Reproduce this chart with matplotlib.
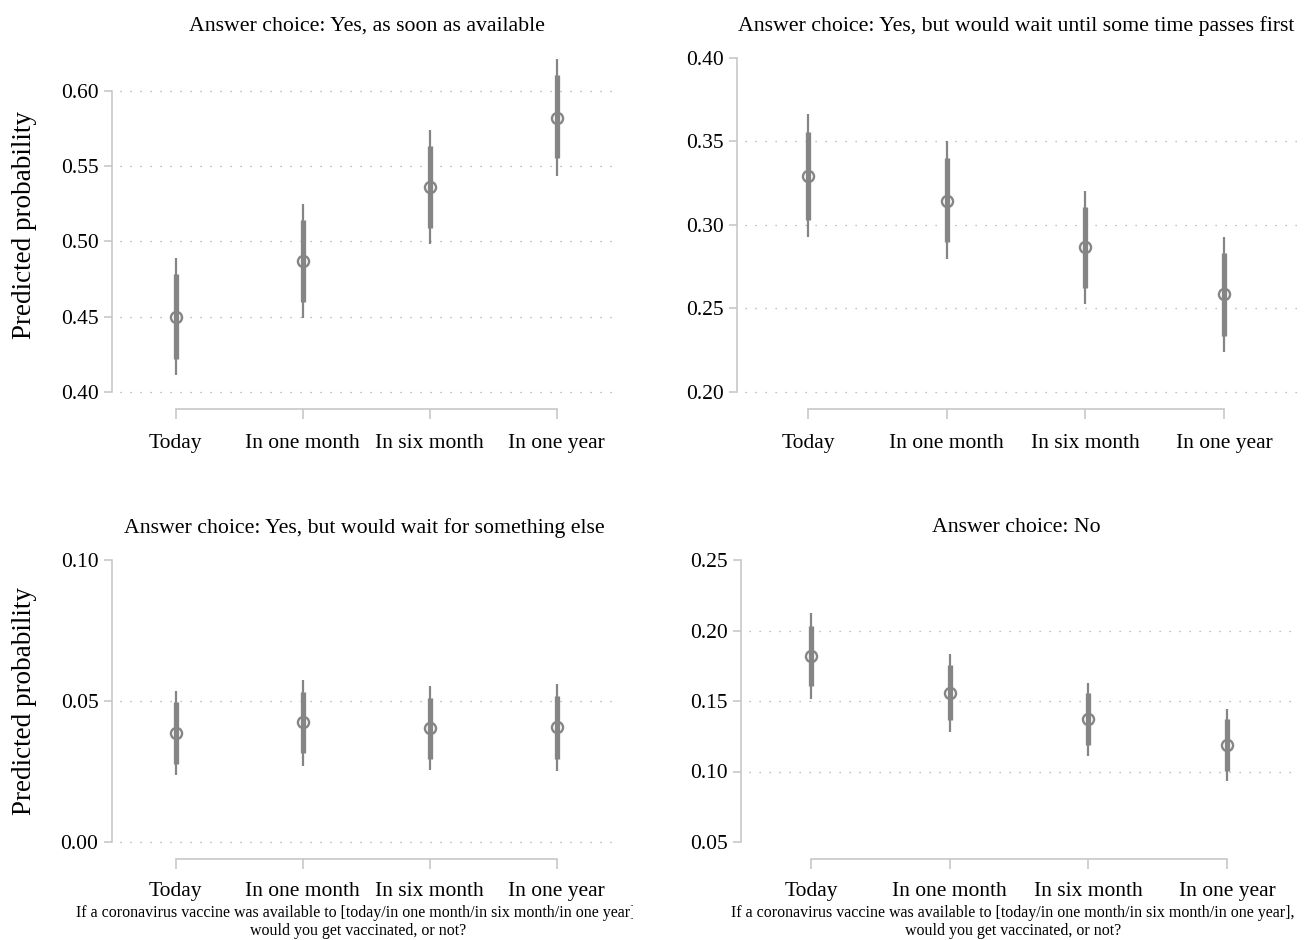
import matplotlib
matplotlib.use("Agg")
import matplotlib.pyplot as plt
from matplotlib.transforms import Bbox, TransformedBbox

plt.rcParams["font.family"] = ["Liberation Serif", "DejaVu Serif"]

categories = ["Today", "In one month", "In six month", "In one year"]

titles = [
    "Answer choice: Yes, as soon as available",
    "Answer choice: Yes, but would wait until some time passes first",
    "Answer choice: Yes, but would wait for something else",
    "Answer choice: No",
]

# point estimates
est_soon = [0.450, 0.487, 0.536, 0.582]
est_wait_time = [0.3296, 0.3146, 0.2866, 0.2584]
est_wait_else = [0.0387, 0.0425, 0.0405, 0.0408]
est_no = [0.1818, 0.1558, 0.1373, 0.1189]

# inner (thick) intervals
inner_lo_soon = [0.422, 0.460, 0.509, 0.555]
inner_hi_soon = [0.478, 0.514, 0.563, 0.610]
inner_lo_wait_time = [0.3032, 0.2896, 0.2620, 0.2338]
inner_hi_wait_time = [0.3556, 0.3400, 0.3106, 0.2830]
inner_lo_wait_else = [0.0278, 0.0316, 0.0296, 0.0295]
inner_hi_wait_else = [0.0495, 0.0533, 0.0509, 0.0517]
inner_lo_no = [0.1605, 0.1364, 0.1189, 0.1004]
inner_hi_no = [0.2031, 0.1752, 0.1558, 0.1369]

# outer (thin) intervals
outer_lo_soon = [0.411, 0.449, 0.4985, 0.543]
outer_hi_soon = [0.489, 0.525, 0.574, 0.621]
outer_lo_wait_time = [0.2928, 0.2794, 0.2524, 0.2240]
outer_hi_wait_time = [0.3664, 0.3500, 0.3204, 0.2928]
outer_lo_wait_else = [0.0236, 0.0271, 0.0254, 0.0252]
outer_hi_wait_else = [0.0536, 0.0576, 0.0553, 0.0562]
outer_lo_no = [0.1515, 0.1283, 0.1113, 0.0933]
outer_hi_no = [0.2121, 0.1833, 0.1631, 0.1440]

yticks_soon = [0.40, 0.45, 0.50, 0.55, 0.60]
yticks_wait_time = [0.20, 0.25, 0.30, 0.35, 0.40]
yticks_wait_else = [0.00, 0.05, 0.10]
yticks_no = [0.05, 0.10, 0.15, 0.20, 0.25]

grid_soon = [0.40, 0.45, 0.50, 0.55, 0.60]
grid_wait_time = [0.20, 0.25, 0.30, 0.35]
grid_wait_else = [0.00, 0.05]
grid_no = [0.10, 0.15, 0.20]

xtitle = ("If a coronavirus vaccine was available to [today/in one month/in six month/in one year],\n"
          "would you get vaccinated, or not?")

W, H = 1307, 940
MARK = "#858585"
AXC = "#c4c4c4"
GRIDC = "#a8a8a8"

fig = plt.figure(figsize=(W / 100, H / 100), dpi=100)


def px_axes(x0, x1, y0, y1):
    return fig.add_axes([x0 / W, 1 - y1 / H, (x1 - x0) / W, (y1 - y0) / H])


panels = [
    dict(box=(120, 620, 58, 392), xlim=(-0.44, 3.50), ylim=(0.40, 0.6216),
         est=est_soon, ilo=inner_lo_soon, ihi=inner_hi_soon,
         olo=outer_lo_soon, ohi=outer_hi_soon, yt=yticks_soon, grid=grid_soon,
         title_x=367, title_y=26, ylabel=True, xt=False, xpad=10.3),
    dict(box=(745, 1297, 58, 392), xlim=(-0.454, 3.526), ylim=(0.20, 0.40),
         est=est_wait_time, ilo=inner_lo_wait_time, ihi=inner_hi_wait_time,
         olo=outer_lo_wait_time, ohi=outer_hi_wait_time, yt=yticks_wait_time,
         grid=grid_wait_time, title_x=1016, title_y=26, ylabel=False, xt=False,
         xpad=10.3),
    dict(box=(120, 620, 560, 842), xlim=(-0.44, 3.50), ylim=(0.00, 0.10),
         est=est_wait_else, ilo=inner_lo_wait_else, ihi=inner_hi_wait_else,
         olo=outer_lo_wait_else, ohi=outer_hi_wait_else, yt=yticks_wait_else,
         grid=grid_wait_else, title_x=364, title_y=528, ylabel=True, xt=True,
         xpad=8.9),
    dict(box=(749, 1297, 560, 842), xlim=(-0.447, 3.504), ylim=(0.05, 0.25),
         est=est_no, ilo=inner_lo_no, ihi=inner_hi_no,
         olo=outer_lo_no, ohi=outer_hi_no, yt=yticks_no,
         grid=grid_no, title_x=1016, title_y=528, ylabel=False, xt=True,
         xpad=8.9),
]

for p, title in zip(panels, titles):
    ax = px_axes(*p["box"])
    xs = list(range(len(categories)))
    for g in p["grid"]:
        ax.axhline(g, color=GRIDC, lw=0.9, linestyle=(0, (1, 7)), zorder=0,
                   clip_on=False)
    ax.vlines(xs, p["olo"], p["ohi"], color=MARK, lw=1.6, zorder=2)
    ax.vlines(xs, p["ilo"], p["ihi"], color=MARK, lw=3.8, zorder=2)
    ax.plot(xs, p["est"], "o", ms=8, mfc="none", mec=MARK, mew=1.7, zorder=3)

    ax.set_xlim(*p["xlim"])
    ax.set_ylim(*p["ylim"])
    ax.set_xticks(xs)
    ax.set_xticklabels(categories)
    ax.set_yticks(p["yt"])
    ax.set_yticklabels([f"{v:.2f}" for v in p["yt"]])

    for s in ["top", "right"]:
        ax.spines[s].set_visible(False)
    ax.spines["left"].set_position(("outward", 6))
    ax.spines["bottom"].set_position(("outward", 12.5))
    ax.spines["left"].set_bounds(p["yt"][0], p["yt"][-1])
    ax.spines["bottom"].set_bounds(0, 3)
    for s in ["left", "bottom"]:
        ax.spines[s].set_color(AXC)
        ax.spines[s].set_linewidth(1.1)
    ax.tick_params(axis="y", length=5.5, width=1.1, color=AXC, pad=4,
                   labelsize=15.5)
    ax.tick_params(axis="x", length=7.5, width=1.1, color=AXC, pad=p["xpad"],
                   labelsize=15.5)
    ax.patch.set_visible(False)

    fig.text(p["title_x"] / W, 1 - p["title_y"] / H, title, ha="center",
             va="center", fontsize=15.7)

    if p["ylabel"]:
        cy = (p["box"][2] + p["box"][3]) / 2
        fig.text(25 / W, 1 - cy / H, "Predicted probability", rotation=90,
                 ha="center", va="center", fontsize=19.5)

    if p["xt"]:
        left = p["box"][0] < 600
        cx = 358 if left else 1013
        t = fig.text(cx / W, 1 - 922 / H, xtitle, ha="center", va="center",
                     fontsize=11.5, linespacing=1.1)
        if left:
            t.set_clip_box(TransformedBbox(Bbox([[0, 0], [633 / W, 1]]),
                                           fig.transFigure))
            t.set_clip_on(True)

fig.savefig("out.png", dpi=100, facecolor="white")
